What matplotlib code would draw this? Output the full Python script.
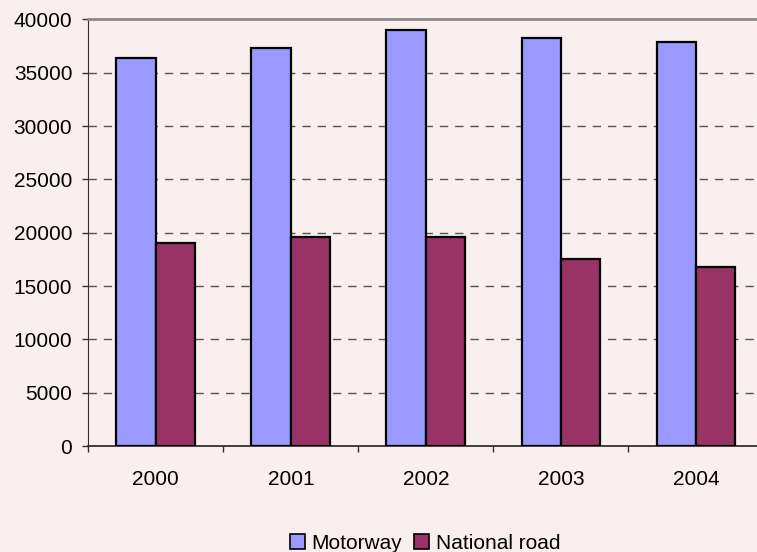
import matplotlib
matplotlib.use("Agg")
import matplotlib.pyplot as plt
from matplotlib.patches import Patch
import numpy as np

plt.rcParams['font.family'] = ['Liberation Sans', 'DejaVu Sans']

years = ["2000", "2001", "2002", "2003", "2004"]
motorway = [36400, 37300, 39000, 38300, 37900]
national_road = [19000, 19600, 19600, 17500, 16800]
series_names = ["Motorway", "National road"]
y_ticks = [0, 5000, 10000, 15000, 20000, 25000, 30000, 35000, 40000]

bg = "#F9EFEE"
col_motor = "#9999FF"
col_nat = "#993366"

fig = plt.figure(figsize=(7.57, 5.52), dpi=100, facecolor=bg)
ax = fig.add_axes([0.1166, 0.192, 0.892, 0.7728], facecolor=bg)

x = np.arange(len(years))
w = 0.292
ax.bar(x - w / 2, motorway, width=w, color=col_motor, edgecolor="black", linewidth=1.6, zorder=3)
ax.bar(x + w / 2, national_road, width=w, color=col_nat, edgecolor="black", linewidth=1.6, zorder=3)

ax.set_xlim(-0.5, len(years) - 0.5)
ax.set_ylim(0, 40000)

# dashed horizontal gridlines
for v in y_ticks[1:-1]:
    ax.axhline(v, color="#555555", linestyle=(0, (6, 5)), linewidth=1.0, zorder=1)

ax.set_yticks(y_ticks)
ax.set_yticklabels([str(v) for v in y_ticks], fontsize=15)
ax.tick_params(axis="y", direction="out", length=4.5, width=1, color="#333333", pad=7)

# category boundaries as ticks, labels at centres
ax.set_xticks(np.arange(-0.5, len(years), 1.0))
ax.set_xticklabels([])
ax.set_xticks(x, minor=True)
ax.set_xticklabels(years, minor=True, fontsize=15)
ax.tick_params(axis="x", which="major", direction="out", length=4.5, width=1, color="#333333")
ax.tick_params(axis="x", which="minor", length=0, pad=17)

ax.spines["right"].set_visible(False)
ax.spines["top"].set_color("#8a8a8a")
ax.spines["top"].set_linewidth(2)
ax.spines["left"].set_color("#333333")
ax.spines["bottom"].set_color("#222222")
ax.spines["bottom"].set_linewidth(1.2)

handles = [Patch(facecolor=col_motor, edgecolor="black", linewidth=1.2),
           Patch(facecolor=col_nat, edgecolor="black", linewidth=1.2)]
fig.legend(handles, series_names, loc="center", bbox_to_anchor=(0.5614, 0.016),
           ncol=2, frameon=False, fontsize=15, handlelength=0.72, handleheight=0.72,
           handletextpad=0.3, columnspacing=0.6, borderpad=0)

fig.savefig("out.png", dpi=100, facecolor=bg)
